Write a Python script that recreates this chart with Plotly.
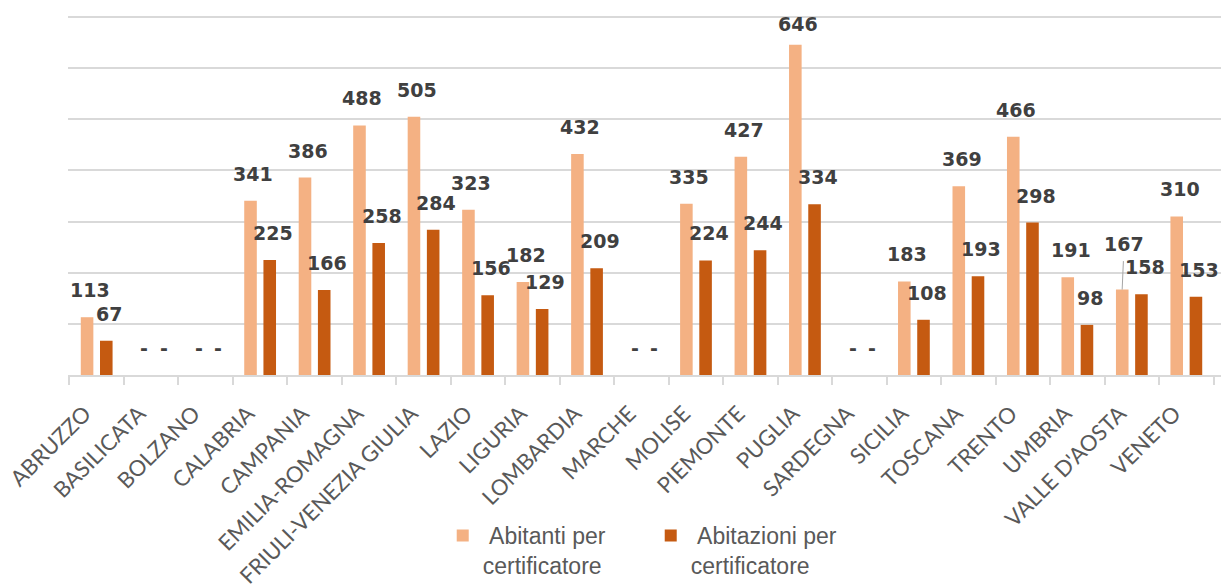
import plotly.graph_objects as go

categories = ["ABRUZZO", "BASILICATA", "BOLZANO", "CALABRIA", "CAMPANIA",
              "EMILIA-ROMAGNA", "FRIULI-VENEZIA GIULIA", "LAZIO", "LIGURIA",
              "LOMBARDIA", "MARCHE", "MOLISE", "PIEMONTE", "PUGLIA", "SARDEGNA",
              "SICILIA", "TOSCANA", "TRENTO", "UMBRIA", "VALLE D'AOSTA", "VENETO"]
abitanti = [113, 0, 0, 341, 386, 488, 505, 323, 182, 432, 0, 335, 427, 646, 0,
            183, 369, 466, 191, 167, 310]
abitazioni = [67, 0, 0, 225, 166, 258, 284, 156, 129, 209, 0, 224, 244, 334, 0,
              108, 193, 298, 98, 158, 153]
series_names = ["\u00a0Abitanti per<br>certificatore", "\u00a0Abitazioni per<br>certificatore"]
colors = ["#F4B183", "#C55A11"]

# the page body adds an 8px offset, so the figure is 8px smaller on each side
W, H = 1222, 580
ML, MR, MT, MB = 60, 9, 7, 213
YMAX = 704
BARGAP = 0.295
GROUPGAP = 0.345

fig = go.Figure()
for vals, name, col in zip([abitanti, abitazioni], series_names, colors):
    fig.add_trace(go.Bar(x=categories, y=vals, name=name, marker_color=col,
                         marker_line_width=0, hoverinfo="skip"))

plot_h = H - MT - MB
scale = plot_h / YMAX
cat_w = (W - ML - MR) / len(categories)
off = cat_w * (1 - BARGAP) / 4
label_font = dict(family="DejaVu Sans", size=19, color="#404040", weight="bold")

def fmt(v):
    return "-" if v == 0 else str(v)

for s, vals in enumerate([abitanti, abitazioni]):
    sign = -1 if s == 0 else 1
    for c, v in zip(categories, vals):
        if s == 0 and c == "VALLE D'AOSTA":
            fig.add_annotation(x=c, y=v, text=fmt(v), font=label_font,
                               xshift=sign * off, showarrow=True, arrowhead=0,
                               arrowwidth=1, arrowcolor="#a6a6a6", ax=2, ay=-46,
                               startstandoff=5)
        else:
            # keep labels inside the chart area (clamped near the top)
            bar_top = MT + plot_h - v * scale
            ys = min(27, bar_top - MT - 9)
            fig.add_annotation(x=c, y=v, text=fmt(v), font=label_font,
                               xshift=sign * off + 3, yshift=ys, showarrow=False,
                               yanchor="middle")

fig.update_layout(
    width=W, height=H,
    margin=dict(l=ML, r=MR, t=MT, b=MB, autoexpand=False),
    paper_bgcolor="white", plot_bgcolor="white",
    barmode="group", bargap=BARGAP, bargroupgap=GROUPGAP,
    showlegend=True,
    legend=dict(orientation="h", x=0.325, xanchor="left", y=-0.386, yanchor="top",
                font=dict(family="Liberation Sans", size=23, color="#595959"),
                valign="top", entrywidth=163, entrywidthmode="pixels",
                bgcolor="rgba(0,0,0,0)"),
    xaxis=dict(type="category", tickangle=-45, tickson="boundaries",
               ticks="outside", ticklen=8, tickwidth=1.5, tickcolor="#d9d9d9",
               showline=True, linecolor="#d9d9d9", linewidth=2,
               tickfont=dict(family="Lato", size=22, color="#595959"),
               ticklabelstandoff=15, ticklabelshift=-12,
               automargin=False, showgrid=False),
    yaxis=dict(range=[0, YMAX], dtick=100, showticklabels=False,
               showgrid=True, gridcolor="#d9d9d9", gridwidth=1.5,
               zeroline=False, automargin=False),
)

fig.write_html("out.html")
